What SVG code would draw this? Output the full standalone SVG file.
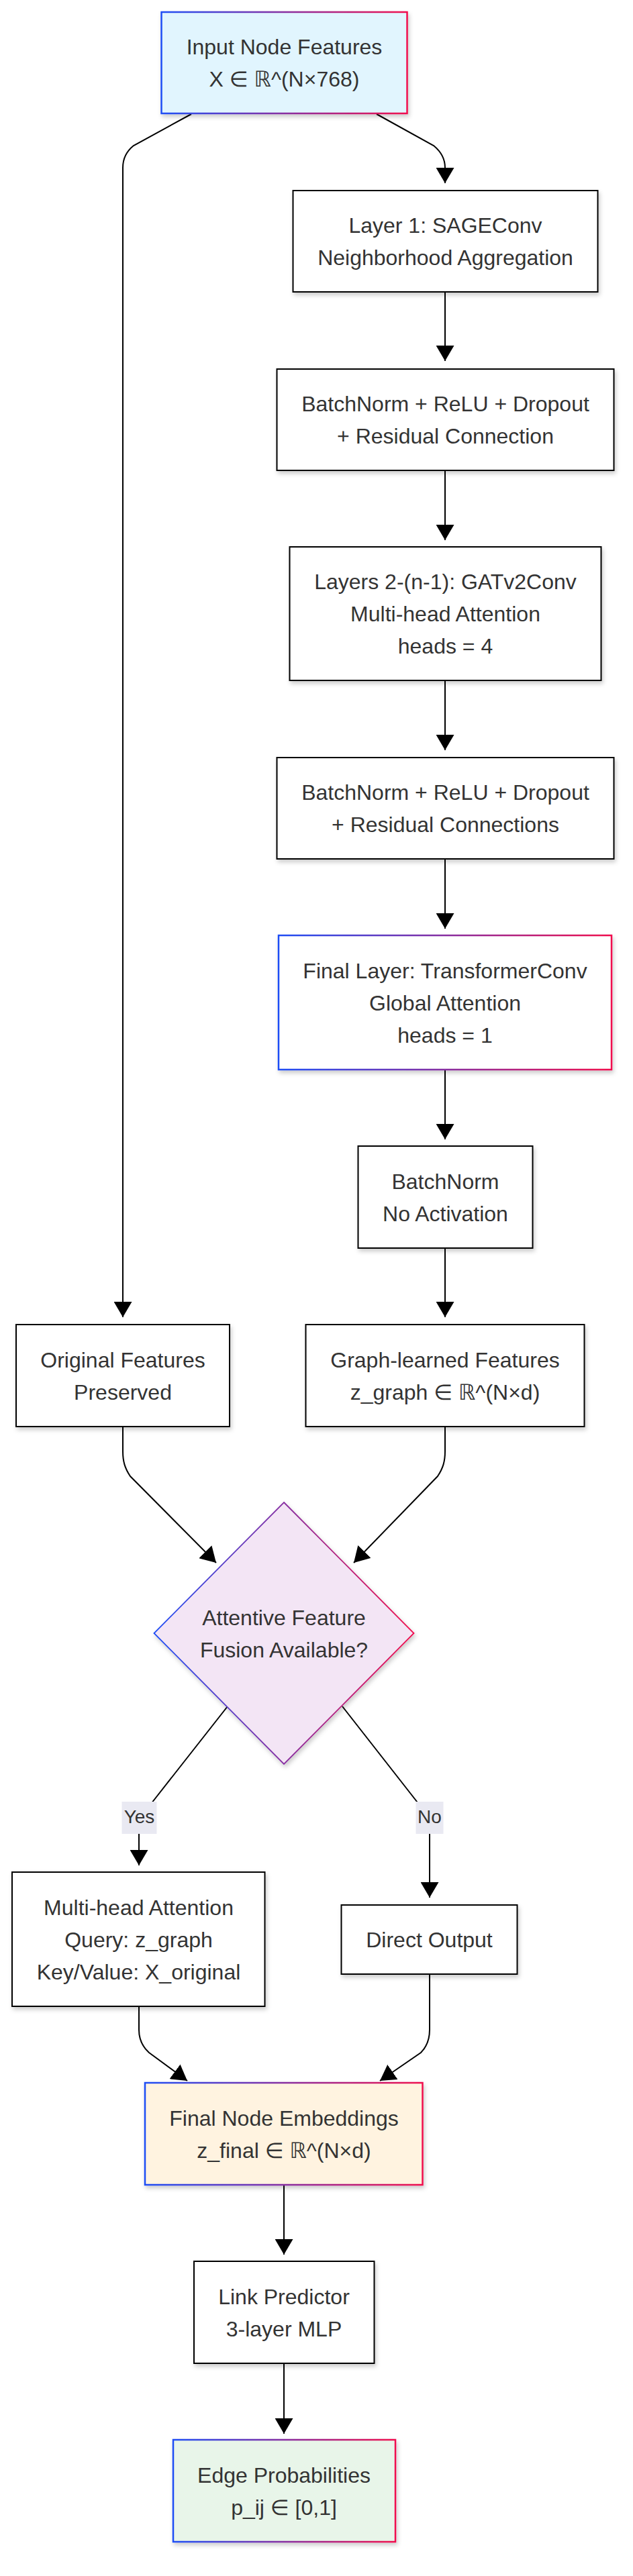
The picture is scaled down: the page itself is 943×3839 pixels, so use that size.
<svg xmlns="http://www.w3.org/2000/svg" width="943" height="3839" viewBox="0 0 943 3839">
<defs>
<linearGradient id="gb" x1="0" y1="0" x2="1" y2="0">
<stop offset="0" stop-color="#1f4ef5"/>
<stop offset="1" stop-color="#f0104e"/>
</linearGradient>
<filter id="sh" x="-10%" y="-10%" width="125%" height="130%">
<feDropShadow dx="2" dy="4" stdDeviation="3" flood-color="#000" flood-opacity="0.2"/>
</filter>
<marker id="ah" markerUnits="userSpaceOnUse" viewBox="0 0 23 27" refX="23" refY="13.5" markerWidth="23" markerHeight="27" orient="auto">
<path d="M0,0 L23,13.5 L0,27 z" fill="#000"/>
</marker>
</defs>
<style>
.box{fill:#fff;stroke:#000;stroke-width:2;filter:url(#sh)}
.gbox{stroke:url(#gb);stroke-width:2.5;filter:url(#sh)}
.t{font-family:"Liberation Sans",Arial,"DejaVu Sans",sans-serif;font-size:32px;fill:#333;text-anchor:middle}
.lt{font-family:"Liberation Sans",Arial,"DejaVu Sans",sans-serif;font-size:28px;fill:#333;text-anchor:middle}
.e{fill:none;stroke:#000;stroke-width:2;marker-end:url(#ah)}
.lb{fill:#e9e9f2}
</style>
<rect width="943" height="3839" fill="#fff"/>
<g id="edges">
<path class="e" d="M285,170 L199,217 C189,225 183,235 183,250 L183,1963"/>
<path class="e" d="M561,170 L646,217 C657,226 663,236 663,250 L663,273"/>
<path class="e" d="M663,435 L663,538"/>
<path class="e" d="M663,701 L663,805"/>
<path class="e" d="M663,1014 L663,1118"/>
<path class="e" d="M663,1280 L663,1384"/>
<path class="e" d="M663,1594 L663,1698"/>
<path class="e" d="M663,1860 L663,1963"/>
<path class="e" d="M183,2126 L183,2163 C183,2178 186,2188 194,2200 L322,2329"/>
<path class="e" d="M663,2126 L663,2163 C663,2178 660,2188 652,2200 L527,2329"/>
<path class="e" d="M339,2543 L222,2692 C212,2705 207,2716 207,2730 L207,2780"/>
<path class="e" d="M510,2543 L625,2690 C635,2703 640,2715 640,2730 L640,2828"/>
<path class="e" d="M207,2990 L207,3025 C207,3040 212,3050 222,3059 L279,3101"/>
<path class="e" d="M640,2942 L640,3025 C640,3040 636,3050 627,3059 L566,3101"/>
<path class="e" d="M423,3256 L423,3360"/>
<path class="e" d="M423,3522 L423,3627"/>
</g>
<g id="edge-labels">
<g id="label-yes"><rect class="lb" x="181.5" y="2685" width="52" height="48"/><text class="lt" x="207.5" y="2717">Yes</text></g>
<g id="label-no"><rect class="lb" x="619.5" y="2685" width="41" height="48"/><text class="lt" x="640" y="2717">No</text></g>
</g>
<g id="input">
<rect class="gbox" x="240.5" y="18" width="366" height="151" fill="#e1f5fe"/>
<text class="t" x="423.5" y="81">Input Node Features</text>
<text class="t" x="423.5" y="129">X ∈ ℝ^(N×768)</text>
</g>
<g id="layer1">
<rect class="box" x="436.5" y="284" width="454" height="151"/>
<text class="t" x="663.5" y="347">Layer 1: SAGEConv</text>
<text class="t" x="663.5" y="395">Neighborhood Aggregation</text>
</g>
<g id="bn1">
<rect class="box" x="412.5" y="550" width="502" height="151"/>
<text class="t" x="663.5" y="613">BatchNorm + ReLU + Dropout</text>
<text class="t" x="663.5" y="661">+ Residual Connection</text>
</g>
<g id="layers2">
<rect class="box" x="431.5" y="815" width="464" height="199"/>
<text class="t" x="663.5" y="878">Layers 2-(n-1): GATv2Conv</text>
<text class="t" x="663.5" y="926">Multi-head Attention</text>
<text class="t" x="663.5" y="974">heads = 4</text>
</g>
<g id="bn2">
<rect class="box" x="412.5" y="1129" width="502" height="151"/>
<text class="t" x="663.5" y="1192">BatchNorm + ReLU + Dropout</text>
<text class="t" x="663.5" y="1240">+ Residual Connections</text>
</g>
<g id="finalLayer">
<rect class="gbox" x="415" y="1394" width="496" height="200" fill="#fff"/>
<text class="t" x="663" y="1457.5">Final Layer: TransformerConv</text>
<text class="t" x="663" y="1505.5">Global Attention</text>
<text class="t" x="663" y="1553.5">heads = 1</text>
</g>
<g id="bn3">
<rect class="box" x="533.5" y="1708" width="260" height="152"/>
<text class="t" x="663.5" y="1771.5">BatchNorm</text>
<text class="t" x="663.5" y="1819.5">No Activation</text>
</g>
<g id="original">
<rect class="box" x="24" y="1974" width="318" height="152"/>
<text class="t" x="183" y="2037.5">Original Features</text>
<text class="t" x="183" y="2085.5">Preserved</text>
</g>
<g id="graphLearned">
<rect class="box" x="455.5" y="1974" width="415" height="152"/>
<text class="t" x="663" y="2037.5">Graph-learned Features</text>
<text class="t" x="663" y="2085.5">z_graph ∈ ℝ^(N×d)</text>
</g>
<g id="decision">
<polygon points="423,2239 616.5,2434 423,2629 229.5,2434" fill="#f3e5f5" stroke="url(#gb)" stroke-width="1.8" filter="url(#sh)"/>
<text class="t" x="423" y="2421.5">Attentive Feature</text>
<text class="t" x="423" y="2469.5">Fusion Available?</text>
</g>
<g id="multihead">
<rect class="box" x="18" y="2790" width="376.5" height="200"/>
<text class="t" x="206.5" y="2853.5">Multi-head Attention</text>
<text class="t" x="206.5" y="2901.5">Query: z_graph</text>
<text class="t" x="206.5" y="2949.5">Key/Value: X_original</text>
</g>
<g id="direct">
<rect class="box" x="508.5" y="2839" width="262" height="103"/>
<text class="t" x="639.5" y="2902">Direct Output</text>
</g>
<g id="finalNode">
<rect class="gbox" x="216" y="3104" width="413.5" height="152" fill="#fff3e0"/>
<text class="t" x="423" y="3167.5">Final Node Embeddings</text>
<text class="t" x="423" y="3215.5">z_final ∈ ℝ^(N×d)</text>
</g>
<g id="linkPredictor">
<rect class="box" x="289" y="3370" width="268.5" height="152"/>
<text class="t" x="423" y="3433.5">Link Predictor</text>
<text class="t" x="423" y="3481.5">3-layer MLP</text>
</g>
<g id="edgeProb">
<rect class="gbox" x="258" y="3636" width="331" height="152" fill="#e8f5e9"/>
<text class="t" x="423" y="3699.5">Edge Probabilities</text>
<text class="t" x="423" y="3747.5">p_ij ∈ [0,1]</text>
</g>
</svg>
